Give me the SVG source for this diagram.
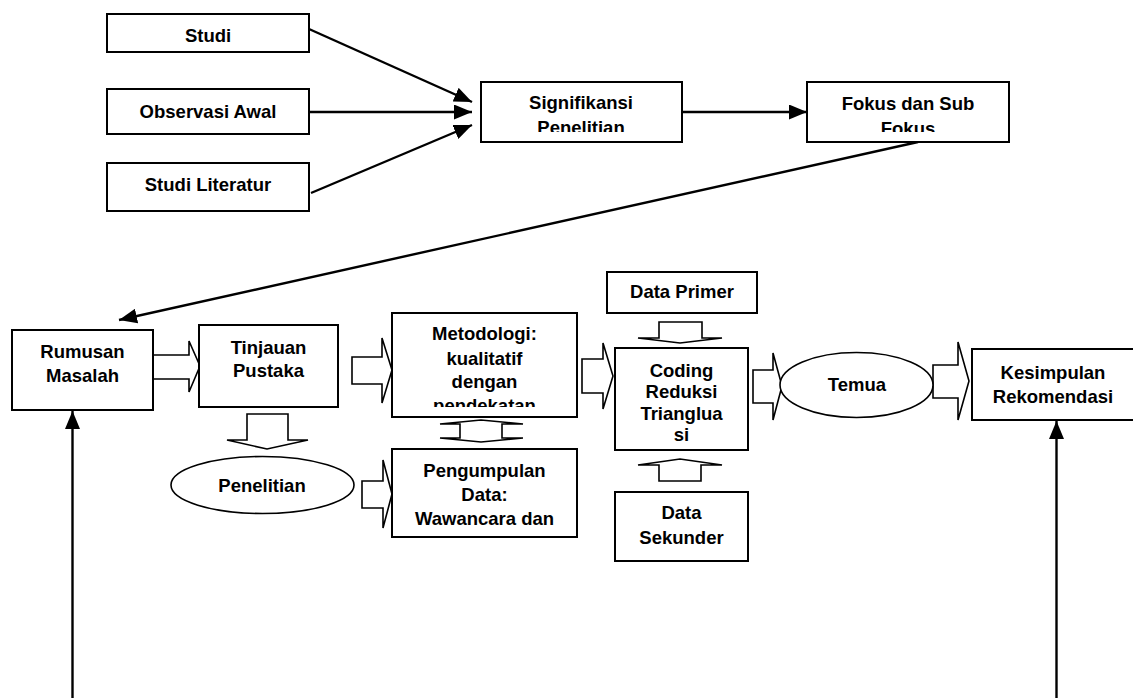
<svg xmlns="http://www.w3.org/2000/svg" width="1133" height="698" viewBox="0 0 1133 698">
<style>
.box{fill:#fff;stroke:#000;stroke-width:2}
.blk{fill:#fff;stroke:#000;stroke-width:1.6;stroke-linejoin:miter}
.t{font-family:"Liberation Sans",Arial,sans-serif;font-weight:bold;font-size:18.5px;text-anchor:middle;fill:#000}
.ln{fill:none;stroke:#000;stroke-width:2.4}
</style>
<defs>
<marker id="ah" markerUnits="userSpaceOnUse" markerWidth="19" markerHeight="15" refX="18" refY="7.5" orient="auto">
<path d="M0,0 L18,7.5 L0,15 z" fill="#000"/>
</marker>
<clipPath id="c1"><rect x="481" y="82" width="201" height="50"/></clipPath>
<clipPath id="c2"><rect x="807" y="82" width="202" height="50"/></clipPath>
<clipPath id="c3"><rect x="392" y="313" width="185" height="94"/></clipPath>
</defs>
<rect width="1133" height="698" fill="#fff"/>

<g id="connectors">
<line class="ln" x1="309" y1="29" x2="472" y2="102" marker-end="url(#ah)"/>
<line class="ln" x1="309" y1="112" x2="472" y2="112" marker-end="url(#ah)"/>
<line class="ln" x1="311" y1="193" x2="472" y2="125" marker-end="url(#ah)"/>
<line class="ln" x1="682" y1="112" x2="807" y2="112" marker-end="url(#ah)"/>
<line class="ln" x1="918" y1="142" x2="119" y2="320" marker-end="url(#ah)"/>
<line class="ln" x1="72.5" y1="698" x2="72.5" y2="411" marker-end="url(#ah)"/>
<line class="ln" x1="1056.5" y1="698" x2="1056.5" y2="421" marker-end="url(#ah)"/>
<path class="blk" d="M153,355 L189,355 L189,341 L200,366 L189,392 L189,379 L153,379 Z"/>
<path class="blk" d="M352,357 L382,357 L382,338 L392,370 L382,403 L382,384 L352,384 Z"/>
<path class="blk" d="M362,481 L383,481 L383,460 L392,494 L383,528 L383,508 L362,508 Z"/>
<path class="blk" d="M247,414 L288,414 L288,440 L308,440 L267,449 L227,440 L247,440 Z"/>
<path class="blk" d="M460,424 L440,424 L481,420 L523,424 L502,424 L502,438 L523,438 L481,442 L440,438 L460,438 Z"/>
<path class="blk" d="M582,359 L603,359 L603,343 L613,376 L603,409 L603,393 L582,393 Z"/>
<path class="blk" d="M659,322 L702,322 L702,338 L722,338 L680,343 L638,338 L659,338 Z"/>
<path class="blk" d="M659,481 L659,465 L638,465 L680,459 L722,465 L701,465 L701,481 Z"/>
<path class="blk" d="M753,370 L773,370 L773,353 L782,386 L773,420 L773,403 L753,403 Z"/>
<path class="blk" d="M933,365 L958,365 L958,342 L969,381 L958,420 L958,398 L933,398 Z"/>
</g>

<g id="studi"><rect class="box" x="107" y="14" width="202" height="38"/><text class="t" x="208" y="42">Studi</text></g>
<g id="observasi"><rect class="box" x="107" y="89" width="202" height="45"/><text class="t" x="208" y="118">Observasi Awal</text></g>
<g id="literatur"><rect class="box" x="107" y="163" width="202" height="48"/><text class="t" x="208" y="191">Studi Literatur</text></g>
<g id="signifikansi"><rect class="box" x="481" y="82" width="201" height="60"/>
<g clip-path="url(#c1)"><text class="t" x="581" y="109">Signifikansi</text><text class="t" x="581" y="134">Penelitian</text></g></g>
<g id="fokus"><rect class="box" x="807" y="82" width="202" height="60"/>
<g clip-path="url(#c2)"><text class="t" x="908" y="110">Fokus dan Sub</text><text class="t" x="908" y="135">Fokus</text></g></g>

<g id="rumusan"><rect class="box" x="12" y="330" width="141" height="80"/><text class="t" x="82.5" y="358">Rumusan</text><text class="t" x="82.5" y="382">Masalah</text></g>
<g id="tinjauan"><rect class="box" x="199" y="325" width="139" height="82"/><text class="t" x="268.5" y="354">Tinjauan</text><text class="t" x="268.5" y="377">Pustaka</text></g>
<g id="penelitian"><ellipse fill="#fff" stroke="#000" stroke-width="1.6" cx="262.5" cy="485" rx="91.5" ry="28.5"/><text class="t" x="262" y="492">Penelitian</text></g>
<g id="metodologi"><rect class="box" x="392" y="313" width="185" height="104"/>
<g clip-path="url(#c3)"><text class="t" x="484.5" y="340">Metodologi:</text><text class="t" x="484.5" y="365">kualitatif</text><text class="t" x="484.5" y="388">dengan</text><text class="t" x="484.5" y="412">pendekatan</text></g></g>
<g id="pengumpulan"><rect class="box" x="392" y="449" width="185" height="88"/><text class="t" x="484.5" y="477">Pengumpulan</text><text class="t" x="484.5" y="501">Data:</text><text class="t" x="484.5" y="525">Wawancara dan</text></g>
<g id="primer"><rect class="box" x="607" y="272" width="150" height="41"/><text class="t" x="682" y="298">Data Primer</text></g>
<g id="coding"><rect class="box" x="615" y="348" width="133" height="102"/><text class="t" x="681.5" y="377">Coding</text><text class="t" x="681.5" y="398">Reduksi</text><text class="t" x="681.5" y="420">Trianglua</text><text class="t" x="681.5" y="441">si</text></g>
<g id="sekunder"><rect class="box" x="615" y="492" width="133" height="69"/><text class="t" x="681.5" y="519">Data</text><text class="t" x="681.5" y="544">Sekunder</text></g>
<g id="temua"><ellipse fill="#fff" stroke="#000" stroke-width="1.6" cx="856.5" cy="385" rx="76.5" ry="32.5"/><text class="t" x="857" y="391">Temua</text></g>
<g id="kesimpulan"><rect class="box" x="972" y="349" width="170" height="71"/><text class="t" x="1053" y="379">Kesimpulan</text><text class="t" x="1053" y="403">Rekomendasi</text></g>
</svg>
